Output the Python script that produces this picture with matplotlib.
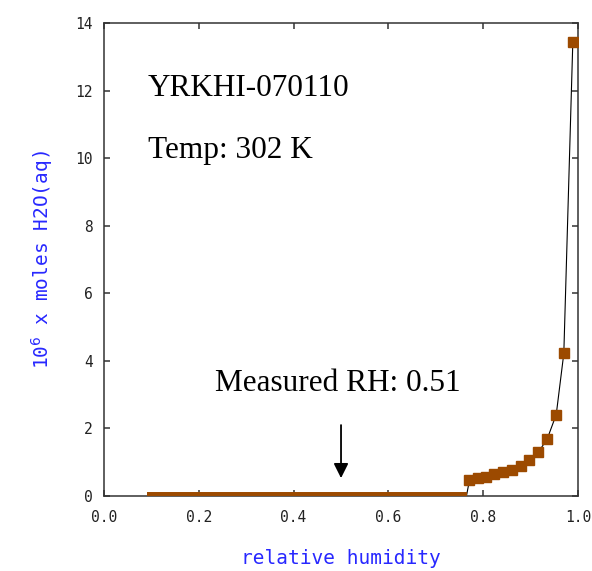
import matplotlib.pyplot as plt

# flat part of the isotherm (below deliquescence)
flat_rh = [0.09, 0.765]
flat_moles = [0.03, 0.03]

# rising part
curve_rh = [0.771, 0.790, 0.806, 0.823, 0.842, 0.861, 0.880, 0.897,
            0.916, 0.935, 0.954, 0.970, 0.989]
curve_moles = [0.47, 0.52, 0.57, 0.65, 0.70, 0.77, 0.90, 1.07,
               1.29, 1.69, 2.41, 4.22, 13.44]

x_ticks = [0.0, 0.2, 0.4, 0.6, 0.8, 1.0]
y_ticks = [0, 2, 4, 6, 8, 10, 12, 14]

brown = '#9C4A00'
mono = 'DejaVu Sans Mono'
serif = 'Liberation Serif'

fig = plt.figure(figsize=(5.92, 5.71), dpi=100)
ax = fig.add_axes([0.1757, 0.1313, 0.8007, 0.8284])

# thin black fitted line through the data
ax.plot([flat_rh[-1]] + curve_rh, [flat_moles[-1]] + curve_moles,
        color='black', lw=0.8, zorder=2)
ax.plot(flat_rh, flat_moles, color=brown, lw=4.3, solid_capstyle='butt', zorder=3)
ax.plot(curve_rh, curve_moles, ls='none', marker='s', ms=6.5,
        color=brown, mec=brown, zorder=4)

ax.set_xlim(0, 1)
ax.set_ylim(0, 14)
ax.set_xticks(x_ticks)
ax.set_yticks(y_ticks)
ax.set_xticklabels(['%.1f' % v for v in x_ticks], family=mono, fontsize=10.5, color='#222222')
ax.set_yticklabels([str(v) for v in y_ticks], family=mono, fontsize=10.5, color='#222222')
ax.tick_params(direction='in', length=4.5, width=1.1, color='#333333',
               top=True, right=True)
ax.tick_params(axis='x', pad=10)
ax.tick_params(axis='y', pad=8)
for s in ax.spines.values():
    s.set_color('#333333')
    s.set_linewidth(1.1)

ax.set_xlabel('relative humidity', family=mono, fontsize=14, color='#2828ff', labelpad=17)
ax.set_ylabel(r'10$^6$ x moles H2O(aq)', family=mono, fontsize=14, color='#2828ff', labelpad=15)

ax.text(0.093, 12.07, 'YRKHI-070110', family=serif, fontsize=22.5, va='center')
ax.text(0.093, 10.24, 'Temp: 302 K', family=serif, fontsize=22.5, va='center')
ax.text(0.494, 3.34, 'Measured RH: 0.51', family=serif, fontsize=22.5,
        va='center', ha='center')
ax.annotate('', xy=(0.5, 0.53), xytext=(0.5, 2.1),
            arrowprops=dict(arrowstyle='-|>', color='black', lw=1.3,
                            mutation_scale=22, shrinkA=0, shrinkB=0))

fig.savefig('out.png', dpi=100)
